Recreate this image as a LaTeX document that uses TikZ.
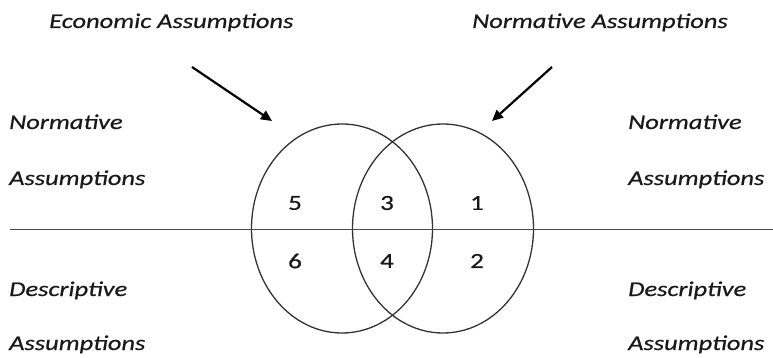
\documentclass[tikz,border=0pt]{standalone}
\usepackage{fontspec}
\setmainfont{Carlito}[FakeStretch=1.26,FakeBold=0.6]
\usetikzlibrary{arrows.meta,shapes.geometric}
\begin{document}
\begin{tikzpicture}[x=1pt,y=-1pt,
  lbl/.style={font=\fontsize{21}{24}\selectfont\itshape, text=black!90, inner sep=0pt, anchor=base west},
  num/.style={font=\fontsize{21.5}{24}\selectfont, text=black!90, inner sep=0pt},
  setshape/.style={draw=black!80, line width=1.3pt, ellipse, minimum width=181pt, minimum height=209pt, inner sep=0pt},
  divider/.style={draw=black!70, line width=1pt},
  pointer/.style={line width=2.2pt, -{Triangle[length=11pt,width=10pt]}}]
\useasboundingbox (0,0) rectangle (773,358);
% circles
\node[setshape] (left) at (342,228.5) {};
\node[setshape] (right) at (443,228.5) {};
% horizontal divider
\coordinate (hl) at (10,229.3);
\coordinate (hr) at (773,229.3);
\draw[divider] (hl) -- (hr);
% numbers
\node[num] (n5) at (295,203) {5};
\node[num] (n3) at (387,203) {3};
\node[num] (n1) at (477,203) {1};
\node[num] (n6) at (295,261) {6};
\node[num] (n4) at (387,261) {4};
\node[num] (n2) at (477,261) {2};
% top labels
\node[lbl] (econ) at (49,28) {Economic Assumptions};
\node[lbl] (normtop) at (472,28) {Normative Assumptions};
% side labels
\node[lbl] (ln1) at (9,129) {Normative};
\node[lbl] (ln2) at (9,185) {Assumptions};
\node[lbl] (ld1) at (9,296) {Descriptive};
\node[lbl] (ld2) at (9,350) {Assumptions};
\node[lbl] (rn1) at (628,129) {Normative};
\node[lbl] (rn2) at (628,185) {Assumptions};
\node[lbl] (rd1) at (628,296) {Descriptive};
\node[lbl] (rd2) at (628,350) {Assumptions};
% arrows
\coordinate (a1s) at (192,67);
\coordinate (a1e) at (272,121);
\coordinate (a2s) at (552,67);
\coordinate (a2e) at (492,121);
\draw[pointer] (a1s) -- (a1e);
\draw[pointer] (a2s) -- (a2e);
\end{tikzpicture}
\end{document}
